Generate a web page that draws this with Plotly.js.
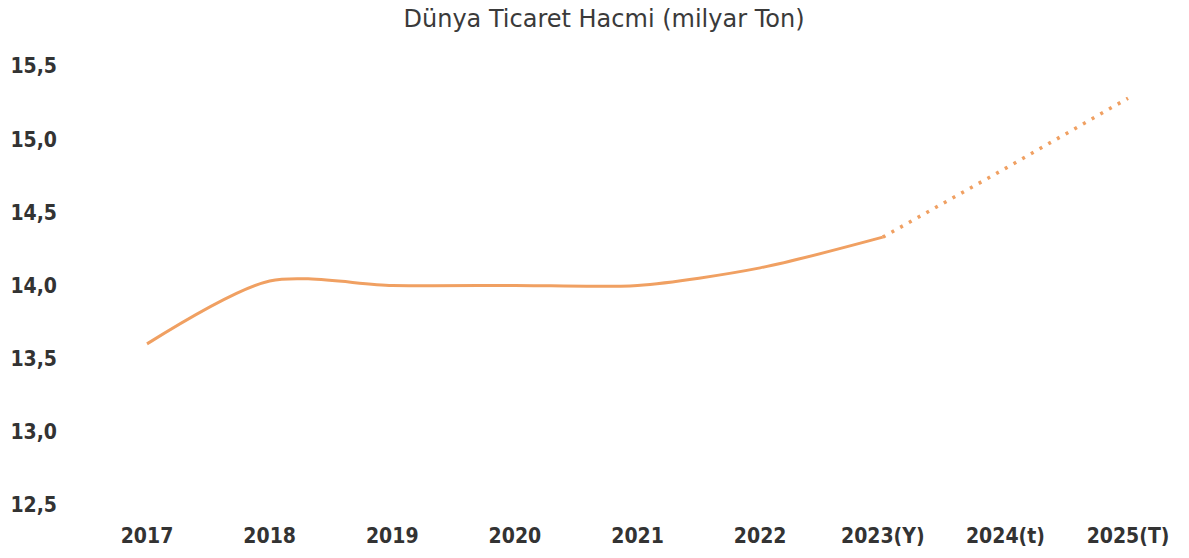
<!DOCTYPE html>
<html><head><meta charset="utf-8">
<script src="https://cdn.plot.ly/plotly-3.0.1.min.js"></script>
<style>html,body{margin:0;padding:0;background:#fff}#c{width:1189px;height:558px}</style>
</head><body><div id="c"></div>
<script>
const categories = ["2017","2018","2019","2020","2021","2022","2023(Y)","2024(t)","2025(T)"];
const actualYears = ["2017","2018","2019","2020","2021","2022","2023(Y)"];
const actualValues = [13.6, 14.03, 14.0, 14.0, 14.0, 14.12, 14.33];
const forecastYears = ["2023(Y)","2024(t)","2025(T)"];
const forecastValues = [14.33, 14.8, 15.28];
const yTicks = [12.5, 13.0, 13.5, 14.0, 14.5, 15.0, 15.5];

const tickFont = "'DejaVu Sans Condensed', 'DejaVu Sans', sans-serif";
const titleFont = "'DejaVu Sans', sans-serif";
const data = [
  {x: actualYears, y: actualValues, type: 'scatter', mode: 'lines',
   line: {color: '#F0A062', width: 3, shape: 'spline', smoothing: 0.8}, hoverinfo: 'skip'},
  {x: forecastYears, y: forecastValues, type: 'scatter', mode: 'lines',
   line: {color: '#F0A062', width: 3.5, dash: '3px,7px'}, hoverinfo: 'skip'}
];
const layout = {
  width: 1189, height: 558,
  margin: {l: 70, r: 20, t: 40, b: 43},
  paper_bgcolor: '#fff', plot_bgcolor: '#fff',
  separators: ',.',
  showlegend: false,
  title: {text: 'Dünya Ticaret Hacmi (milyar Ton)', x: 0.508, xanchor: 'center', y: 0.966, yanchor: 'middle',
          font: {family: titleFont, size: 24, color: '#3a3a3a'}},
  xaxis: {type: 'category', categoryorder: 'array', categoryarray: categories,
          range: [-0.628, 8.334], showgrid: false, zeroline: false, showline: false,
          ticks: '', tickfont: {family: tickFont, size: 21, color: '#333', weight: 'bold'}, ticklabelstandoff: 6},
  yaxis: {range: [12.43, 15.678], tickvals: yTicks, tickformat: '.1f', showgrid: false,
          zeroline: false, showline: false, ticks: '',
          tickfont: {family: tickFont, size: 21, color: '#333', weight: 'bold'}, ticklabelstandoff: 12}
};
Plotly.newPlot('c', data, layout, {staticPlot: true});
</script></body></html>
